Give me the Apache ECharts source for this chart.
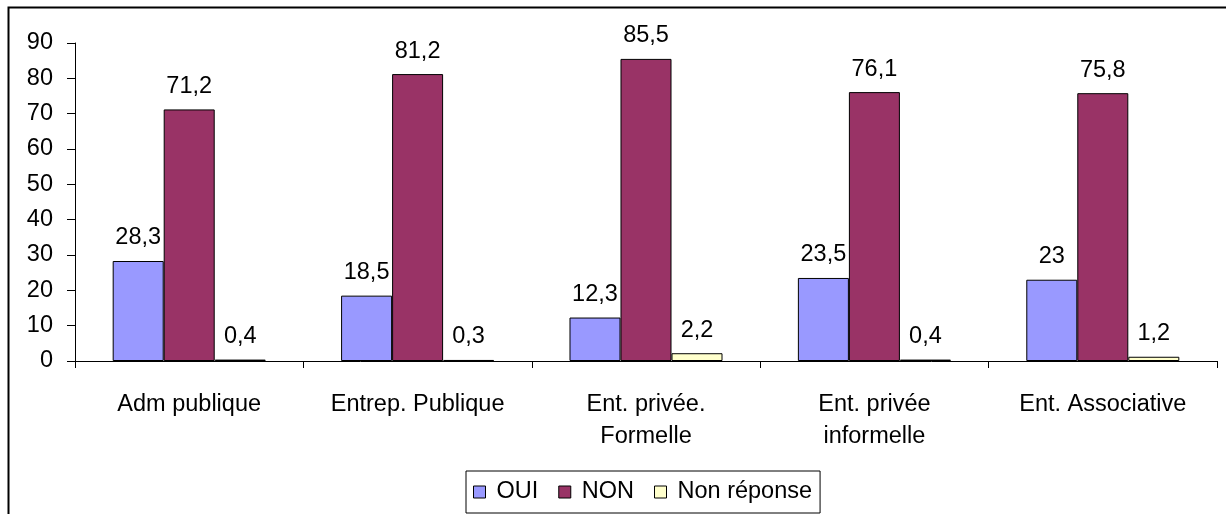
<!DOCTYPE html>
<html>
<head>
<meta charset="utf-8">
<script src="https://cdn.jsdelivr.net/npm/echarts@6/dist/echarts.min.js"></script>
<style>
html,body{margin:0;padding:0;background:#fff;}
#chart{width:1226px;height:514px;}
</style>
</head>
<body>
<div id="chart"></div>
<script>
const categories = ['Adm publique', 'Entrep. Publique', 'Ent. privée.\nFormelle', 'Ent. privée\ninformelle', 'Ent. Associative'];
const seriesNames = ['OUI', 'NON', 'Non réponse'];
const oui = [28.3, 18.5, 12.3, 23.5, 23];
const non = [71.2, 81.2, 85.5, 76.1, 75.8];
const nonReponse = [0.4, 0.3, 2.2, 0.4, 1.2];
const colors = ['#9999FF', '#993366', '#FFFFCC'];

const FONT = 'Liberation Sans, Arial, sans-serif';
const FS = 23.5;

const chart = echarts.init(document.getElementById('chart'));
function mk(name, data, color) {
  return {
    name: name,
    type: 'bar',
    data: data,
    barGap: '0%',
    barCategoryGap: '33%',
    itemStyle: { color: color, borderColor: '#000', borderWidth: 1 },
    label: {
      show: true, position: 'top', distance: 11,
      color: '#000', fontFamily: FONT, fontSize: FS,
      formatter: p => String(p.value).replace('.', ',')
    },
    emphasis: { disabled: true }
  };
}
chart.setOption({
  animation: false,
  backgroundColor: '#fff',
  graphic: [{
    type: 'rect', left: 6, top: 5,
    shape: { x: 0, y: 0, width: 1400, height: 700 },
    style: { fill: 'none', stroke: '#000', lineWidth: 2 }
  }],
  grid: { left: 75, right: 9, top: 43, bottom: 153 },
  legend: {
    data: seriesNames,
    left: 466, top: 471,
    padding: [9, 8, 9, 7],
    borderColor: '#000', borderWidth: 1,
    itemWidth: 12, itemHeight: 12, itemGap: 20,
    icon: 'rect',
    itemStyle: { borderColor: '#000', borderWidth: 1 },
    textStyle: { fontFamily: FONT, fontSize: FS, color: '#000', padding: [0, 0, 0, 6] }
  },
  xAxis: {
    type: 'category',
    data: categories,
    boundaryGap: true,
    axisLine: { lineStyle: { color: '#000', width: 1 } },
    axisTick: { show: true, length: 7, lineStyle: { color: '#000' } },
    axisLabel: { color: '#000', fontFamily: FONT, fontSize: FS, margin: 28, lineHeight: 32, interval: 0 }
  },
  yAxis: {
    type: 'value', min: 0, max: 90, interval: 10,
    splitLine: { show: false },
    axisLine: { show: true, lineStyle: { color: '#000', width: 1 } },
    axisTick: { show: true, length: 8, inside: false, lineStyle: { color: '#000' } },
    axisLabel: { color: '#000', fontFamily: FONT, fontSize: FS, margin: 22 }
  },
  series: [
    mk(seriesNames[0], oui, colors[0]),
    mk(seriesNames[1], non, colors[1]),
    mk(seriesNames[2], nonReponse, colors[2])
  ]
});
</script>
</body>
</html>
